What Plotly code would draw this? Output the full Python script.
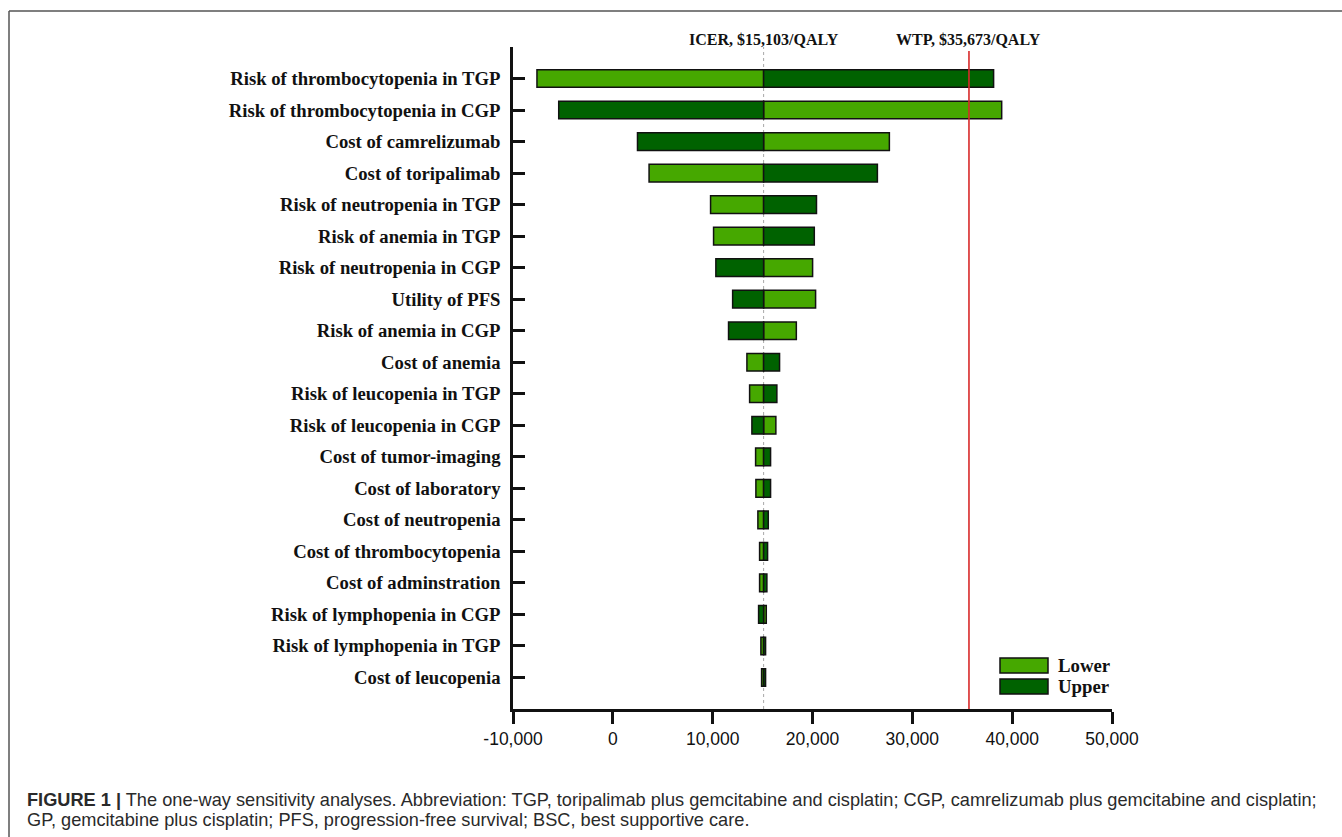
import plotly.graph_objects as go

# ---------------- data ----------------
parameters = [
    "Risk of thrombocytopenia in TGP",
    "Risk of thrombocytopenia in CGP",
    "Cost of camrelizumab",
    "Cost of toripalimab",
    "Risk of neutropenia in TGP",
    "Risk of anemia in TGP",
    "Risk of neutropenia in CGP",
    "Utility of PFS",
    "Risk of anemia in CGP",
    "Cost of anemia",
    "Risk of leucopenia in TGP",
    "Risk of leucopenia in CGP",
    "Cost of tumor-imaging",
    "Cost of laboratory",
    "Cost of neutropenia",
    "Cost of thrombocytopenia",
    "Cost of adminstration",
    "Risk of lymphopenia in CGP",
    "Risk of lymphopenia in TGP",
    "Cost of leucopenia",
]
# ICER at the lower bound of each parameter
icer_lower = [-7600, 38950, 27700, 3630, 9790, 10090, 20010, 20310, 18380, 13430,
              13700, 16330, 14300, 14330, 14530, 14700, 14700, 15370, 14830, 14900]
# ICER at the upper bound of each parameter
icer_upper = [38140, -5420, 2470, 26500, 20400, 20180, 10320, 12000, 11590, 16700,
              16430, 13930, 15800, 15800, 15570, 15500, 15430, 14600, 15300, 15300]

ICER = 15103
WTP = 35673

x_tick_vals = [-10000, 0, 10000, 20000, 30000, 40000, 50000]
x_tick_text = ["-10,000", "0", "10,000", "20,000", "30,000", "40,000", "50,000"]

series_names = ["Lower", "Upper"]
series_colors = ["#46A800", "#006200"]

# ---------------- figure ----------------
W, H = 1342, 837
L, R, T, B = 513, 230, 47, 128
pw, ph = W - L - R, H - T - B


def px_x(x):
    return (x - L) / pw


def px_y(y):
    return (H - B - y) / ph


rows = list(range(len(parameters)))
fig = go.Figure()
for name, vals, col in zip(series_names, [icer_lower, icer_upper], series_colors):
    fig.add_trace(go.Bar(
        name=name,
        y=rows,
        x=[v - ICER for v in vals],
        base=ICER,
        orientation="h",
        width=0.56,
        marker=dict(color=col, line=dict(color="#111111", width=1.5)),
        showlegend=False,
    ))

serif = "Liberation Serif, Times New Roman, serif"
sans = "Liberation Sans, Arial, sans-serif"

shapes = [
    # ICER reference line
    dict(type="line", xref="x", yref="paper", x0=ICER, x1=ICER, y0=0, y1=1,
         line=dict(color="#a8a8a8", width=1, dash="dot"), layer="below"),
    # WTP line
    dict(type="line", xref="x", yref="paper", x0=WTP, x1=WTP, y0=0, y1=px_y(51),
         line=dict(color="#D82A2A", width=1.6)),
    # outer figure frame
    dict(type="line", xref="paper", yref="paper", x0=px_x(9), x1=px_x(1360),
         y0=px_y(11), y1=px_y(11), line=dict(color="#555555", width=1.5)),
    dict(type="line", xref="paper", yref="paper", x0=px_x(9), x1=px_x(9),
         y0=px_y(11), y1=px_y(850), line=dict(color="#555555", width=1.5)),
]
annotations = [
    dict(xref="x", yref="paper", x=ICER, y=px_y(39), xanchor="center", yanchor="middle",
         text=f"ICER, ${ICER:,}/QALY", showarrow=False,
         font=dict(family=serif, size=16, color="#111111", weight="bold")),
    dict(xref="x", yref="paper", x=WTP, y=px_y(39), xanchor="center", yanchor="middle",
         text=f"WTP, ${WTP:,}/QALY", showarrow=False,
         font=dict(family=serif, size=16, color="#111111", weight="bold")),
]

# custom legend
leg_boxes = [(658, 673), (679, 694)]
for (y0, y1), name, col in zip(leg_boxes, series_names, series_colors):
    shapes.append(dict(type="rect", xref="paper", yref="paper",
                       x0=px_x(1000), x1=px_x(1048), y0=px_y(y1), y1=px_y(y0),
                       fillcolor=col, line=dict(color="#111111", width=1.5)))
    annotations.append(dict(xref="paper", yref="paper", x=px_x(1056), y=px_y((y0 + y1) / 2),
                            xanchor="left", yanchor="middle", text=name, showarrow=False,
                            font=dict(family=serif, size=18.8, color="#111111", weight="bold")))

# caption
caption1 = ("<b>FIGURE 1 |</b> The one-way sensitivity analyses. Abbreviation: TGP, toripalimab plus "
            "gemcitabine and cisplatin; CGP, camrelizumab plus gemcitabine and cisplatin;")
caption2 = "GP, gemcitabine plus cisplatin; PFS, progression-free survival; BSC, best supportive care."
for txt, yc in [(caption1, 800), (caption2, 820)]:
    annotations.append(dict(xref="paper", yref="paper", x=px_x(25), y=px_y(yc),
                            xanchor="left", yanchor="middle", text=txt, showarrow=False,
                            align="left", font=dict(family=sans, size=18.2, color="#2a2a2a")))

fig.update_layout(
    width=W, height=H, autosize=False,
    margin=dict(l=L, r=R, t=T, b=B, pad=0),
    paper_bgcolor="white", plot_bgcolor="white",
    barmode="overlay",
    shapes=shapes, annotations=annotations,
    xaxis=dict(range=[-10000, 50000], tickvals=x_tick_vals, ticktext=x_tick_text,
               showline=True, linecolor="#111111", linewidth=2.5, ticks="outside",
               ticklen=12, tickwidth=2.5, tickcolor="#111111", showgrid=False, zeroline=False,
               tickfont=dict(family=sans, size=17.5, color="#111111")),
    yaxis=dict(range=[len(parameters), -1], tickvals=[-1] + rows, ticktext=[""] + parameters,
               showline=True, linecolor="#111111", linewidth=2.5, ticks="inside",
               ticklen=12, tickwidth=2.5, tickcolor="#111111", showgrid=False, zeroline=False,
               ticklabelstandoff=6,
               tickfont=dict(family=serif, size=18.7, color="#111111", weight="bold")),
)

fig.write_html("out.html", config={"displayModeBar": False},
               post_script="document.body.style.margin='0';")
